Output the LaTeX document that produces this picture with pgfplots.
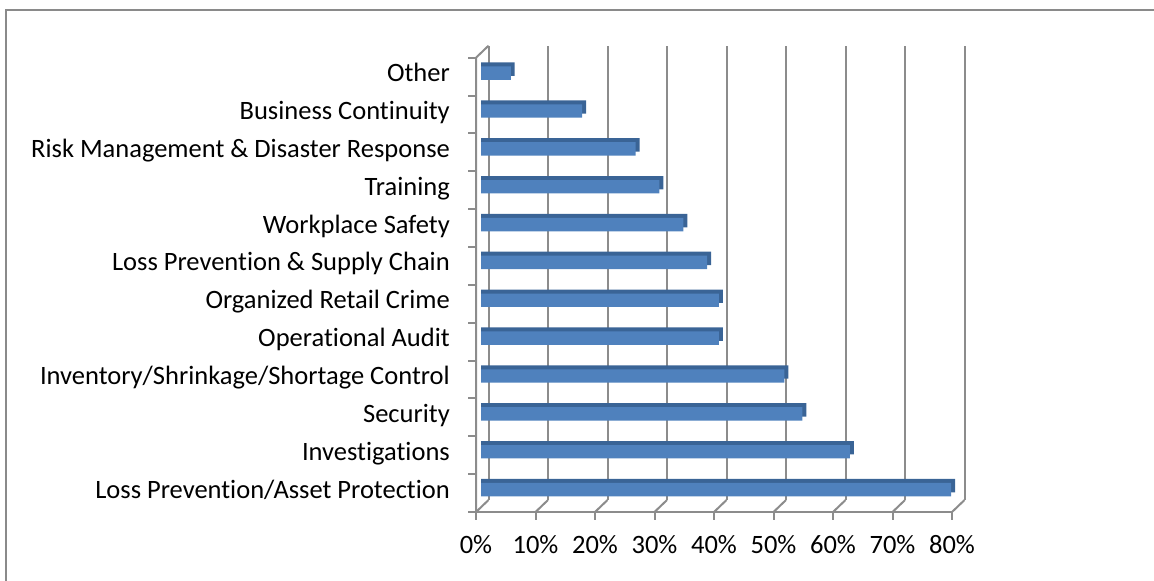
\documentclass[border=0pt]{standalone}
\usepackage{fontspec}
\setmainfont{Carlito}[Ligatures={NoCommon,NoContextual}]
\usepackage{pgfplots}
\usepackage{pgfplotstable}
\pgfplotsset{compat=1.18}
\definecolor{barfront}{HTML}{4F81BD}
\definecolor{bartop}{HTML}{3A6496}
\definecolor{gridc}{HTML}{8C8C8C}
\definecolor{framec}{HTML}{8A8A8A}
\pgfplotstableread{
idx value
0 79
1 62
2 54
3 51
4 40
5 40
6 38
7 34
8 30
9 26
10 17
11 5
}\datatable
\begin{document}
\begin{tikzpicture}[x=1pt,y=1pt]
\useasboundingbox (0,0) rectangle (1154,-581);
\draw[framec, line width=2pt] (6,-600) -- (6,-10) -- (1170,-10);
% back wall gridlines and floor
\foreach \k in {0,...,8}{
  \draw[gridc, line width=2pt] ({488.5+59.5*\k},-500) -- ({488.5+59.5*\k},-45.7);
  \draw[gridc, line width=2pt] ({476+59.5*\k},-512) -- ({488.5+59.5*\k},-500);
  \draw[gridc, line width=2pt] ({476+59.5*\k},-512) -- ({476+59.5*\k},-520);
}
% left wall
\draw[gridc, line width=2pt] (476,-512) -- (476,-57.7) -- (488.5,-45.7);
\draw[gridc, line width=2pt] (468,-512) -- (952,-512);
\foreach \j in {1,...,12}{
  \draw[gridc, line width=2pt] (468,{-512+37.86*\j}) -- (476,{-512+37.86*\j});
}
\begin{axis}[
  at={(481pt,-508.5pt)}, anchor=south west,
  scale only axis, width=476pt, height=454.3pt,
  xmin=0, xmax=80, ymin=-0.5, ymax=11.5,
  clip=false,
  axis line style={draw=none},
  major tick length=0pt,
  xtick={0,10,...,80},
  xticklabels={0\%,10\%,20\%,30\%,40\%,50\%,60\%,70\%,80\%},
  ytick={0,...,11},
  yticklabels={Loss Prevention/Asset Protection,Investigations,Security,Inventory/Shrinkage/Shortage Control,Operational Audit,Organized Retail Crime,Loss Prevention \& Supply Chain,Workplace Safety,Training,Risk Management \& Disaster Response,Business Continuity,Other},
  tick label style={font=\fontsize{26.5}{30}\selectfont, text=black},
  xticklabel style={anchor=base, inner sep=0pt, yshift=-44.5pt, xshift=-5pt},
  yticklabel style={anchor=base east, inner sep=0pt, xshift=-31pt, yshift=-8.5pt},
]
\addplot[xbar, bar width=13.4pt, bar shift=4pt, fill=bartop, draw=none] table[x expr=\thisrow{value}+0.67, y=idx]{\datatable};
\addplot[xbar, bar width=13.4pt, bar shift=0pt, fill=barfront, draw=none] table[x=value, y=idx]{\datatable};
\end{axis}
\end{tikzpicture}
\end{document}
